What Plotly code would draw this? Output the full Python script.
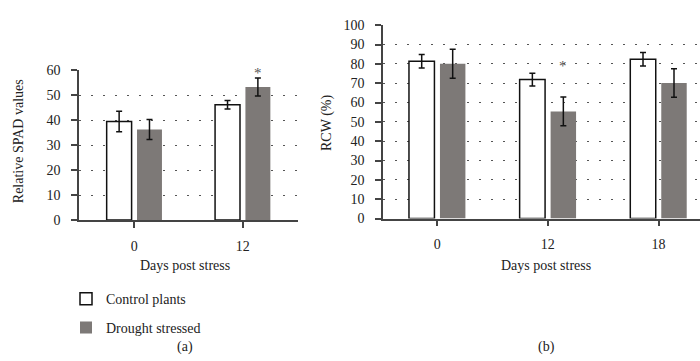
import plotly.graph_objects as go

# ---- data ----
spad_days = [0, 1]
spad_day_labels = ["0", "12"]
spad_control = [39.5, 46.2]
spad_control_err = [4.1, 1.7]
spad_drought = [36.3, 53.3]
spad_drought_err = [4.0, 3.6]

rcw_days = [0, 1, 2]
rcw_day_labels = ["0", "12", "18"]
rcw_control = [81.3, 71.9, 82.4]
rcw_control_err = [3.5, 3.3, 3.5]
rcw_drought = [80.0, 55.4, 70.1]
rcw_drought_err = [7.5, 7.4, 7.4]

series_names = ["Control plants", "Drought stressed"]
control_color = "#ffffff"
drought_color = "#7d7977"
FONT = "Liberation Serif, DejaVu Serif, serif"
FS = 14

fig = go.Figure()

def add_pair(xs, ctrl, ctrl_err, dr, dr_err, xa, ya, show):
    fig.add_trace(go.Bar(
        x=xs, y=ctrl, name=series_names[0], xaxis=xa, yaxis=ya,
        width=0.23, offset=-0.255,
        marker=dict(color=control_color, line=dict(color="#111", width=1.5)),
        error_y=dict(type="data", array=ctrl_err, color="#111", thickness=1.5, width=3),
        showlegend=show, legend="legend",
    ))
    fig.add_trace(go.Bar(
        x=xs, y=dr, name=series_names[1], xaxis=xa, yaxis=ya,
        width=0.23, offset=0.025,
        marker=dict(color=drought_color, line=dict(color="#222", width=0)),
        error_y=dict(type="data", array=dr_err, color="#111", thickness=1.5, width=3),
        showlegend=show, legend="legend2",
    ))

add_pair(spad_days, spad_control, spad_control_err, spad_drought, spad_drought_err, "x", "y", True)
add_pair(rcw_days, rcw_control, rcw_control_err, rcw_drought, rcw_drought_err, "x2", "y2", False)

axis_common = dict(showline=True, linecolor="#444", linewidth=1.5, zeroline=False,
                   tickfont=dict(family=FONT, size=FS, color="#222"))
grid = dict(showgrid=True, gridcolor="#555", gridwidth=1, griddash="2px,10px")

fig.update_layout(
    width=700, height=361, margin=dict(l=0, r=0, t=0, b=0),
    plot_bgcolor="white", paper_bgcolor="white",
    barmode="overlay",
    font=dict(family=FONT, size=FS, color="#222"),
    xaxis=dict(domain=[0.1129, 0.4257], range=[-0.51, 1.51], tickmode="array",
               tickvals=spad_days, ticktext=spad_day_labels, ticks="outside",
               ticklen=6, tickcolor="#444", tickwidth=1.5, showgrid=False,
               ticklabelstandoff=6, anchor="y", **axis_common),
    yaxis=dict(domain=[0.3842, 0.8172], range=[0, 60], dtick=10, ticks="outside",
               ticklen=6, tickcolor="#444", tickwidth=1.5, anchor="x",
               ticklabelstandoff=8, **grid, **axis_common),
    xaxis2=dict(domain=[0.5471, 1.0], range=[-0.49, 2.375], tickmode="array",
                tickvals=rcw_days, ticktext=rcw_day_labels, ticks="outside",
                ticklen=6, tickcolor="#444", tickwidth=1.5, showgrid=False,
                ticklabelstandoff=6, anchor="y2", **axis_common),
    yaxis2=dict(domain=[0.3886, 0.9474], range=[0, 100], dtick=10, ticks="outside",
                ticklen=6, tickcolor="#444", tickwidth=1.5, anchor="x2",
                ticklabelstandoff=8, **grid, **axis_common),
    legend=dict(x=66/700, y=1-288/361, xanchor="left", yanchor="top",
                font=dict(family=FONT, size=FS, color="#222"), bgcolor="rgba(0,0,0,0)"),
    legend2=dict(x=66/700, y=1-318/361, xanchor="left", yanchor="top",
                 font=dict(family=FONT, size=FS, color="#222"), bgcolor="rgba(0,0,0,0)"),
)

ann = [
    dict(text="Relative SPAD values", x=18/700, y=1-140/361, textangle=-90),
    dict(text="RCW (%)", x=327/700, y=1-121/361, textangle=-90),
    dict(text="Days post stress", x=185/700, y=1-270/361),
    dict(text="Days post stress", x=546/700, y=1-270/361),
    dict(text="(a)", x=185/700, y=1-355/361),
    dict(text="(b)", x=546/700, y=1-355/361),
]
for a in ann:
    fig.add_annotation(xref="paper", yref="paper", showarrow=False,
                       xanchor="center", yanchor="middle",
                       font=dict(family=FONT, size=FS, color="#222"), **a)

# significance asterisks
fig.add_annotation(x=1 + 0.14, y=59.0, xref="x", yref="y", text="*", showarrow=False,
                   font=dict(family=FONT, size=15, color="#555555"), yanchor="middle")
fig.add_annotation(x=1 + 0.14, y=79.0, xref="x2", yref="y2", text="*", showarrow=False,
                   font=dict(family=FONT, size=15, color="#555555"), yanchor="middle")

fig.write_html("out.html")
